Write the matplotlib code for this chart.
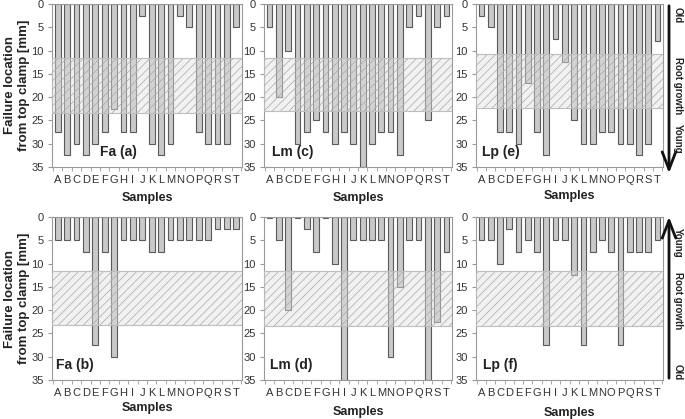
import numpy as np
import matplotlib
matplotlib.use('Agg')
import matplotlib.pyplot as plt

# ================= Data (failure location from top clamp, mm) =================
samples = list("ABCDEFGHIJKLMNOPQRST")

fa_a = [27.5, 32.5, 30, 32.5, 30, 27.5, 22.5, 27.5, 27.5, 2.5,
        30, 32.5, 30, 2.5, 5, 27.5, 30, 30, 30, 5]
lm_c = [5, 20, 10, 30, 27.5, 25, 27.5, 30, 27.5, 30,
        35, 30, 27.5, 27.5, 32.5, 5, 2.5, 25, 5, 2.5]
lp_e = [2.5, 5, 27.5, 27.5, 30, 17, 27.5, 32.5, 7.5, 12.5,
        25, 30, 30, 27.5, 27.5, 30, 30, 32.5, 30, 8]
fa_b = [5, 5, 5, 7.5, 27.5, 7.5, 30, 5, 5, 5,
        7.5, 7.5, 5, 5, 5, 5, 5, 2.5, 2.5, 2.5]
lm_d = [0.3, 5, 20, 0.3, 2.5, 7.5, 0.3, 10, 35, 5,
        5, 5, 5, 30, 15, 5, 5, 35, 22.5, 7.5]
lp_f = [5, 5, 10, 2.5, 7.5, 5, 7.5, 27.5, 5, 5,
        12.5, 27.5, 7.5, 5, 7.5, 27.5, 7.5, 7.5, 7.5, 5]

panel_names = ["Fa (a)", "Lm (c)", "Lp (e)", "Fa (b)", "Lm (d)", "Lp (f)"]
panel_data = [fa_a, lm_c, lp_e, fa_b, lm_d, lp_f]
# root growth zone (mm)
zone_lo = [11.7, 11.5, 10.8, 11.5, 11.7, 11.7]
zone_hi = [23.3, 23.0, 22.4, 23.2, 23.3, 23.3]

# ================= Layout =================
W, H = 685, 419
plt.rcParams['font.family'] = ['Liberation Sans', 'DejaVu Sans']
plt.rcParams['hatch.linewidth'] = 0.5
plt.rcParams['hatch.color'] = '#a8a8a8'

fig = plt.figure(figsize=(W / 100, H / 100), dpi=100)

col_x = [(52, 242), (264, 452), (476, 663)]
row_y = [(4, 167), (217, 380)]
label_pos = [0.25, 0.04, 0.03, 0.02, 0.03, 0.04]
xlabel_y = [198, 198, 196, 408, 412, 413]

x = np.arange(len(samples))

for i, (name, vals) in enumerate(zip(panel_names, panel_data)):
    r, c = divmod(i, 3)
    x0, x1 = col_x[c]
    y0, y1 = row_y[r]
    ax = fig.add_axes([x0 / W, 1 - y1 / H, (x1 - x0) / W, (y1 - y0) / H])

    ax.bar(x, vals, width=0.62, color='#c9c9c9', edgecolor='#5a5a5a',
           linewidth=0.8, zorder=2)
    # hatched root growth band drawn over the bars
    ax.axhspan(zone_lo[i], zone_hi[i], facecolor=(0.88, 0.88, 0.88, 0.45),
               edgecolor='#a8a8a8', hatch='////', linewidth=0, zorder=3)
    ax.axhline(zone_lo[i], color='#bdbdbd', lw=0.8, zorder=3)
    ax.axhline(zone_hi[i], color='#bdbdbd', lw=0.8, zorder=3)

    ax.set_xlim(-0.6, len(samples) - 0.4)
    ax.set_ylim(35, 0)
    ax.set_yticks(np.arange(0, 36, 5))
    ax.set_xticks(x)
    ax.set_xticklabels(samples)
    ax.set_xticks(np.arange(-0.5, len(samples), 1), minor=True)
    ax.tick_params(axis='x', which='major', length=0, pad=6,
                   labelsize=8, labelcolor='#333333')
    ax.tick_params(axis='x', which='minor', length=3, color='#999999')
    ax.tick_params(axis='y', length=3, color='#999999', pad=3,
                   labelsize=8, labelcolor='#333333')
    for s in ax.spines.values():
        s.set_color('#9a9a9a')
        s.set_linewidth(0.8)

    ax.text(label_pos[i], 31.8, name, transform=ax.get_yaxis_transform(),
            fontsize=10, fontweight='bold', color='#222222', va='center',
            zorder=4)

    fig.text((x0 + x1) / 2 / W, 1 - xlabel_y[i] / H, "Samples",
             ha='center', va='center', fontsize=9, fontweight='bold',
             color='#222222')

# y labels
for y0, y1 in row_y:
    fig.text(17 / W, 1 - (y0 + y1) / 2 / H, "Failure location\nfrom top clamp [mm]",
             rotation=90, ha='center', va='center', multialignment='center',
             fontsize=9.5, fontweight='bold', color='#222222')

# ================= Age arrows on the right =================
ax_all = fig.add_axes([0, 0, 1, 1])
ax_all.set_xlim(0, W)
ax_all.set_ylim(H, 0)
ax_all.axis('off')

ax_all.annotate("", xy=(669, 176), xytext=(669, 3),
                arrowprops=dict(arrowstyle='->,head_length=0.9,head_width=0.35',
                                lw=2, color='#111111', mutation_scale=14))
ax_all.annotate("", xy=(669, 214), xytext=(669, 381),
                arrowprops=dict(arrowstyle='->,head_length=0.9,head_width=0.35',
                                lw=2, color='#111111', mutation_scale=14))

side_txt = [("Old", 15), ("Root growth", 86), ("Young", 139),
            ("Young", 243), ("Root growth", 301), ("Old", 372)]
for t, yy in side_txt:
    ax_all.text(678, yy, t, rotation=-90, ha='center', va='center',
                fontsize=7, fontweight='bold', color='#222222')

fig.savefig("out.png", dpi=100)
